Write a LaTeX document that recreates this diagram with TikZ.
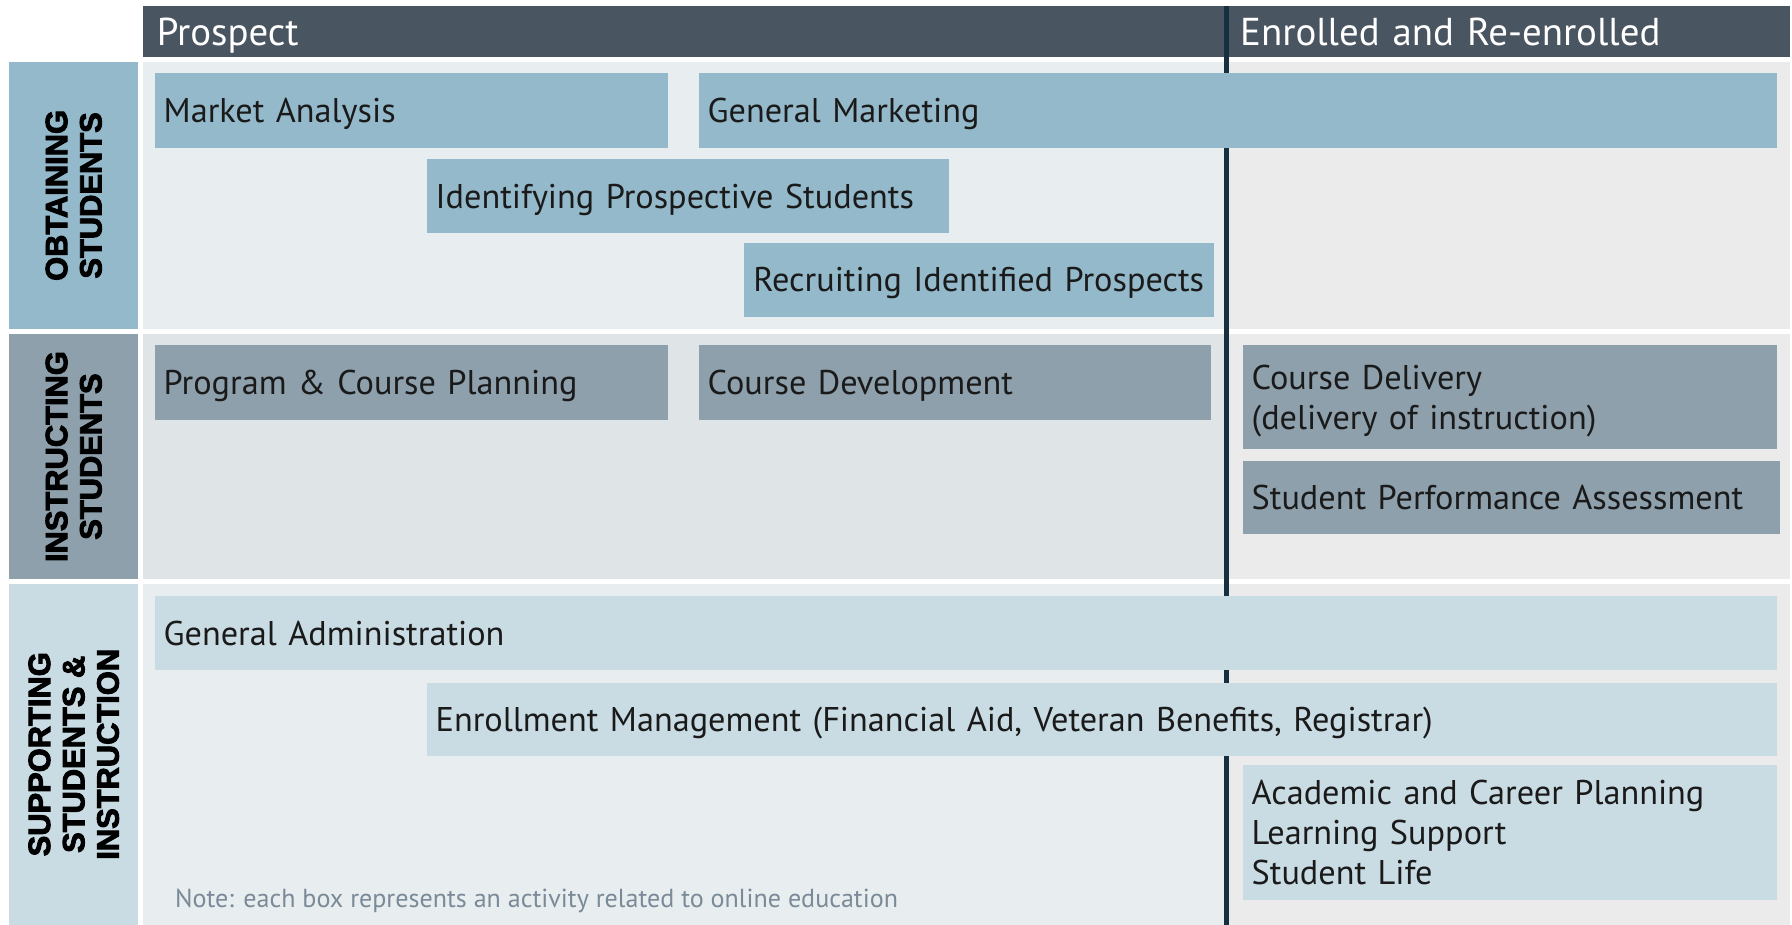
\documentclass[tikz,border=0pt]{standalone}
\usepackage{fontspec}
\setmainfont{PT Sans}
\newfontfamily\heavyfont{Liberation Sans}[BoldFeatures={FakeBold=3}]
\definecolor{headbg}{HTML}{4A5562}
\definecolor{divider}{HTML}{16303F}
\definecolor{obtain}{HTML}{94B9CA}
\definecolor{instruct}{HTML}{8DA0AC}
\definecolor{support}{HTML}{C9DBE3}
\definecolor{bgA}{HTML}{E8EEEF}
\definecolor{bgB}{HTML}{DFE5E7}
\definecolor{bgR}{HTML}{EBEBEB}
\definecolor{ink}{HTML}{1A1A1A}
\definecolor{notegray}{HTML}{7B8A98}

\begin{document}
\begin{tikzpicture}[x=1pt, y=-1pt]
		\tikzstyle{act} = [anchor=north west, inner xsep=8pt, inner ysep=0pt, text depth=0pt, align=left, text=ink, font=\fontsize{30}{35}\selectfont]
		\tikzstyle{headcell} = [anchor=north west, fill=headbg, text=white, inner xsep=12pt, inner ysep=0pt, text depth=0pt, minimum height=45pt, align=left, font=\fontsize{34}{38}\selectfont]
		\tikzstyle{rowlab} = [rotate=90, inner sep=0pt, minimum height=113pt, align=center, text=black, font=\heavyfont\bfseries\fontsize{27}{30}\selectfont]
		
		\useasboundingbox (0,0) rectangle (1568,809);
		
		% row backgrounds
		\fill[bgA] (125,54) rectangle (1073,288);
		\fill[bgB] (125,292) rectangle (1073,507);
		\fill[bgA] (125,511) rectangle (1073,809);
		\fill[bgR] (1073,54) rectangle (1566,288);
		\fill[bgR] (1073,292) rectangle (1566,507);
		\fill[bgR] (1073,511) rectangle (1566,809);
		
		\node [headcell, text width=924pt] (prospect) at (125,5) {Prospect};
		\node [headcell, text width=469pt] (enrolled) at (1073,5) {Enrolled and Re-enrolled};
		
		\node [rowlab, fill=obtain, minimum width=234pt] (obtaining) at (64.5,171) {OBTAINING\\STUDENTS};
		\node [rowlab, fill=instruct, minimum width=215pt] (instructing) at (64.5,399.5) {INSTRUCTING\\STUDENTS};
		\node [rowlab, fill=support, minimum width=298pt] (supporting) at (64.5,660) {SUPPORTING\\STUDENTS \&\\INSTRUCTION};
		
		\coordinate (divtop) at (1073,5);
		\coordinate (divbot) at (1073,809);
		\draw [divider, line width=4pt] (divtop) -- (divbot);
		
		% obtaining students
		\node [act, fill=obtain, text width=433pt, minimum height=65pt] (market) at (135,64) {Market Analysis};
		\node [act, fill=obtain, text width=928pt, minimum height=65pt] (marketing) at (611,64) {General Marketing};
		\node [act, fill=obtain, text width=441pt, minimum height=65pt] (identify) at (373,139) {Identifying Prospective Students};
		\node [act, fill=obtain, text width=395pt, minimum height=65pt] (recruit) at (651,212) {Recruiting Identified Prospects};
		
		% instructing students
		\node [act, fill=instruct, text width=433pt, minimum height=65pt] (planning) at (135,302) {Program \& Course Planning};
		\node [act, fill=instruct, text width=432pt, minimum height=65pt] (develop) at (611,302) {Course Development};
		\node [act, fill=instruct, text width=452pt, text depth=35pt, minimum height=91pt] (delivery) at (1087,302) {Course Delivery\\(delivery of instruction)};
		\node [act, fill=instruct, text width=454pt, minimum height=64pt] (assess) at (1087,403) {Student Performance Assessment};
		
		% supporting students
		\node [act, fill=support, text width=1404pt, minimum height=65pt] (admin) at (135,521) {General Administration};
		\node [act, fill=support, text width=1166pt, minimum height=64pt] (enroll) at (373,597) {Enrollment Management (Financial Aid, Veteran Benefits, Registrar)};
		\node [act, fill=support, text width=452pt, text depth=70pt, minimum height=118pt] (services) at (1087,669) {Academic and Career Planning\\Learning Support\\Student Life};
		
		\node [anchor=west, inner sep=0pt, text=notegray, font=\fontsize{22.8}{26}\selectfont] (note) at (153,788) {Note: each box represents an activity related to online education};
	\end{tikzpicture}
\end{document}
